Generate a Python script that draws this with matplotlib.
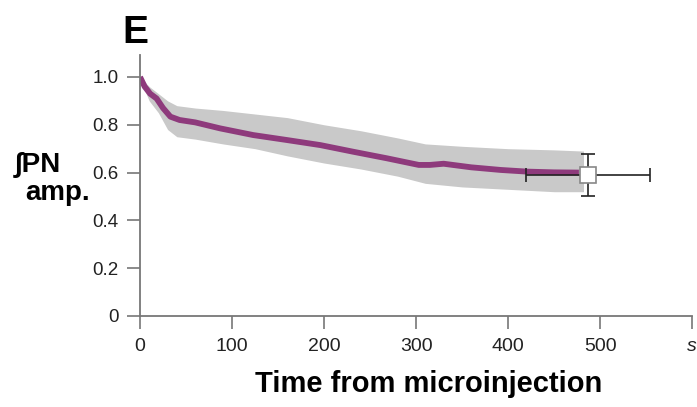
import matplotlib.pyplot as plt
import numpy as np

plt.rcParams['font.family'] = ['Liberation Sans', 'DejaVu Sans']

# mean trace (s, normalised integrated PN amplitude)
t_mean = [0, 5, 11, 18, 25, 33, 43, 60, 87, 123, 160, 196, 232, 268,
          303, 315, 330, 360, 392, 421, 450, 477]
amp_mean = [1.0, 0.96, 0.93, 0.91, 0.87, 0.834, 0.82, 0.81, 0.785, 0.757,
            0.736, 0.715, 0.687, 0.66, 0.632, 0.632, 0.637, 0.622, 0.611,
            0.604, 0.601, 0.60]

# shaded spread around the mean
t_band = [0, 10, 20, 30, 40, 60, 90, 125, 160, 200, 240, 280, 310, 350,
          400, 450, 482]
band_upper = [1.0, 0.96, 0.93, 0.90, 0.88, 0.87, 0.86, 0.845, 0.83, 0.80,
              0.775, 0.745, 0.72, 0.71, 0.70, 0.695, 0.69]
band_lower = [0.99, 0.90, 0.85, 0.78, 0.75, 0.74, 0.72, 0.70, 0.67, 0.64,
              0.615, 0.585, 0.555, 0.54, 0.53, 0.52, 0.52]

# summary point with error bars
pt_t, pt_amp = 487, 0.59
pt_terr, pt_amperr = 67, 0.088

xticks = [0, 100, 200, 300, 400, 500, 600]
xticklabels = ['0', '100', '200', '300', '400', '500', 's']
yticks = [0, 0.2, 0.4, 0.6, 0.8, 1.0]
yticklabels = ['0', '0.2', '0.4', '0.6', '0.8', '1.0']

fig = plt.figure(figsize=(6.97, 4.07), dpi=100)
ax = fig.add_axes([0.2009, 0.2236, 0.7920, 0.6413])

ax.fill_between(t_band, band_lower, band_upper, color='#c9c9c9', lw=0, zorder=1)
ax.plot(t_mean, amp_mean, color='#8e3a7c', lw=4.2, solid_capstyle='butt', zorder=2)
ax.errorbar(pt_t, pt_amp, xerr=pt_terr, yerr=pt_amperr, fmt='s', ms=12,
            mfc='white', mec='#888888', mew=1.2, ecolor='#222222',
            elinewidth=1.2, capsize=5, capthick=1.5, zorder=3)

ax.set_xlim(0, 600)
ax.set_ylim(0, 1.092)
for side in ['top', 'right']:
    ax.spines[side].set_visible(False)
for side in ['left', 'bottom']:
    ax.spines[side].set_color('#777777')
    ax.spines[side].set_linewidth(1.3)

ax.set_xticks(xticks)
ax.set_xticklabels(xticklabels, fontsize=14, color='#222222')
ax.get_xticklabels()[-1].set_style('italic')
ax.set_yticks(yticks)
ax.set_yticklabels(yticklabels, fontsize=13.5, color='#222222')
ax.tick_params(length=9.5, width=1.2, color='#777777', pad=6)

fig.text(429 / 697, 1 - 392 / 407, 'Time from microinjection', fontsize=21,
         fontweight='bold', ha='center', va='baseline')
fig.text(15 / 697, 1 - 172 / 407, '\u222bPN', fontsize=20, fontweight='bold',
         ha='left', va='baseline')
fig.text(25 / 697, 1 - 200 / 407, 'amp.', fontsize=20, fontweight='bold',
         ha='left', va='baseline')
fig.text(135 / 697, 1 - 43 / 407, 'E', fontsize=28, fontweight='bold',
         ha='center', va='baseline')

fig.savefig('out.png', dpi=100)
